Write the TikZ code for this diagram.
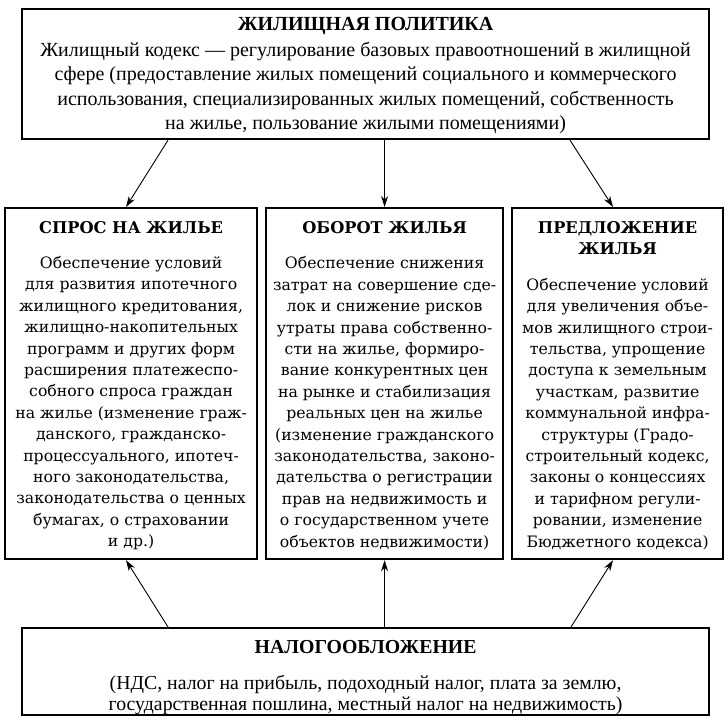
\documentclass[tikz,border=0pt]{standalone}
\usepackage{fontspec}
\setmainfont{Liberation Serif}
\newfontfamily\boxfont{DejaVu Serif}
\usetikzlibrary{arrows.meta,calc}
\tikzset{
  frame/.style={draw, line width=2.2pt, rectangle, inner sep=0pt, align=center, anchor=north west},
  midbox/.style={frame, minimum height=351pt, font=\boxfont\fontsize{15.7}{21.4}\selectfont},
  arr/.style={line width=0.9pt, -{Stealth[length=11pt,width=7pt]}},
}
\newcommand{\boxtitle}[1]{{\fontsize{16.2}{21.4}\selectfont\textbf{#1}}}
\begin{document}
\begin{tikzpicture}[x=1pt,y=-1pt]
\useasboundingbox (0,0) rectangle (726,720);

\node[frame, minimum width=687pt, minimum height=130pt, font=\fontsize{20}{24.3}\selectfont] (top) at (21,8)
{\rule{0pt}{16pt}\textbf{ЖИЛИЩНАЯ ПОЛИТИКА}\\[2pt]
Жилищный кодекс — регулирование базовых правоотношений в жилищной\\
сфере (предоставление жилых помещений социального и коммерческого\\
использования, специализированных жилых помещений, собственность\\
на жилье, пользование жилыми помещениями)};

\node[midbox, minimum width=252pt] (spros) at (4,207)
{\rule{0pt}{16pt}\boxtitle{СПРОС НА ЖИЛЬЕ}\\[14pt]
Обеспечение условий\\
для развития ипотечного\\
жилищного кредитования,\\
жилищно-накопительных\\
программ и других форм\\
расширения платежеспо-\\
собного спроса граждан\\
на жилье (изменение граж-\\
данского, гражданско-\\
процессуального, ипотеч-\\
ного законодательства,\\
законодательства о ценных\\
бумагах, о страховании\\
и др.)};

\node[midbox, minimum width=237pt] (oborot) at (265,207)
{\rule{0pt}{16pt}\boxtitle{ОБОРОТ ЖИЛЬЯ}\\[14pt]
Обеспечение снижения\\
затрат на совершение сде-\\
лок и снижение рисков\\
утраты права собственно-\\
сти на жилье, формиро-\\
вание конкурентных цен\\
на рынке и стабилизация\\
реальных цен на жилье\\
(изменение гражданского\\
законодательства, законо-\\
дательства о регистрации\\
прав на недвижимость и\\
о государственном учете\\
объектов недвижимости)};

\node[midbox, minimum width=211pt] (predl) at (511,207)
{\rule{0pt}{16pt}\boxtitle{ПРЕДЛОЖЕНИЕ}\\
\boxtitle{ЖИЛЬЯ}\\[14pt]
Обеспечение условий\\
для увеличения объе-\\
мов жилищного строи-\\
тельства, упрощение\\
доступа к земельным\\
участкам, развитие\\
коммунальной инфра-\\
структуры (Градо-\\
строительный кодекс,\\
законы о концессиях\\
и тарифном регули-\\
ровании, изменение\\
Бюджетного кодекса)};

\node[frame, minimum width=687pt, minimum height=87pt, font=\fontsize{19.8}{20.5}\selectfont] (nalog) at (21,627)
{\rule{0pt}{25pt}\textbf{НАЛОГООБЛОЖЕНИЕ}\\[16pt]
(НДС, налог на прибыль, подоходный налог, плата за землю,\\
государственная пошлина, местный налог на недвижимость)};

\draw[arr] ($(top.south west)+(147,0)$) -- ($(spros.north west)+(122,0)$);
\draw[arr] (top.south -| oborot.north) -- (oborot.north);
\draw[arr] ($(top.south west)+(549,0)$) -- ($(predl.north west)+(102,0)$);

\draw[arr] ($(nalog.north west)+(147,0)$) -- ($(spros.south west)+(122,0)$);
\draw[arr] (nalog.north -| oborot.south) -- (oborot.south);
\draw[arr] ($(nalog.north west)+(550,0)$) -- ($(predl.south west)+(102,0)$);
\end{tikzpicture}
\end{document}
